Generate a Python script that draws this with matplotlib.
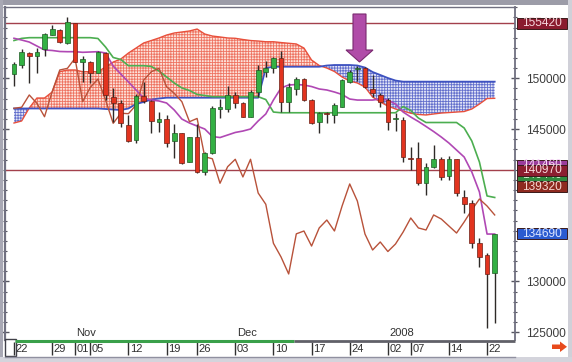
import matplotlib
matplotlib.use("Agg")
import matplotlib.pyplot as plt
import matplotlib.transforms as mtransforms
from matplotlib.patches import Rectangle, Polygon
from matplotlib.ticker import MultipleLocator, FixedLocator, FormatStrFormatter
import numpy as np

plt.rcParams['font.family'] = ['Liberation Sans', 'DejaVu Sans']
plt.rcParams['hatch.linewidth'] = 0.6

# ---------------- data ----------------
opens = [150420, 151310, 152460, 152200, 152910, 154290, 154750, 153500, 155410, 151580,
         151600, 150550, 152520, 148190, 147540, 145400, 143930, 148260, 147800, 145670,
         145990, 143830, 144640, 141790, 144190, 140810, 142620, 147010, 146950, 148360,
         147540, 146220, 148680, 150650, 150980, 151970, 147700, 148920, 149900, 147860,
         145730, 146560, 146390, 147200, 149670, 150870, 150980, 148920, 148360, 147860,
         145950, 145900, 142180, 142130, 139670, 141240, 142030, 140380, 142030, 138320,
         137730, 133760, 132610, 130870]
highs = [151630, 152850, 152560, 153010, 154430, 155250, 154880, 156000, 155470, 152200,
         151730, 152690, 152620, 149020, 147860, 146390, 148460, 149670, 147860, 146710,
         146390, 145500, 144650, 144250, 145500, 142780, 147270, 147930, 149240, 148680,
         147700, 148850, 151310, 151700, 152130, 152720, 149510, 150160, 150000, 147930,
         146710, 146710, 147540, 149930, 150820, 151210, 151140, 150330, 148520, 148030,
         146560, 146220, 143270, 143760, 141630, 143430, 142280, 142350, 142060, 139010,
         138020, 134280, 132830, 134700]
lows = [149240, 151040, 149510, 150550, 152200, 154230, 153500, 153380, 151570, 149670,
        149510, 150490, 147860, 145730, 145240, 143760, 143660, 147540, 144590, 144740,
        143270, 142130, 141560, 141730, 140650, 140480, 142550, 146060, 146710, 147050,
        146200, 146200, 148190, 150160, 150490, 146710, 146710, 148360, 147800, 145500,
        144590, 145570, 145630, 147150, 149570, 149700, 149020, 148190, 147200, 144910,
        144790, 141790, 140970, 139500, 138510, 141140, 139990, 139990, 138440, 136740,
        133300, 131430, 125390, 125890]
closes = [151410, 152620, 152230, 152620, 154330, 154820, 153600, 155570, 151630, 151870,
          150550, 152620, 148360, 147540, 145570, 143860, 148260, 147800, 145830, 145990,
          143660, 144590, 141690, 144190, 140810, 142620, 147050, 147150, 148360, 147540,
          146220, 148680, 150820, 150980, 151970, 147700, 149110, 149930, 147860, 145570,
          146560, 146520, 147370, 149830, 150650, 150980, 149170, 148520, 147700, 145730,
          146050, 142280, 142080, 139670, 141300, 142030, 140290, 142030, 138710, 137600,
          133760, 132410, 130740, 134690]

span_a = [145600, 145800, 147080, 148060, 148060, 148650, 150650, 150820, 150820, 150650,
          150650, 150650, 151110, 151600, 151900, 152490, 152980, 153480, 153720, 153970,
          154260, 154460, 154560, 154660, 154850, 154360, 154160, 154070, 153970, 153940,
          153820, 153720, 153670, 153600, 153600, 153520, 153450, 153380, 152980, 151800,
          151260, 151010, 150670, 150130, 149730, 149540, 149140, 148160, 147670, 147270,
          146980, 146780, 146560, 146440, 146390, 146490, 146580, 146630, 146680, 146730,
          146980, 147470, 148010, 148030]
span_b = [147030] * 12 + [146980, 146930, 146880, 147030, 147470, 147670, 147910, 148010] \
         + [148090] * 13 + [151010] + [151140] * 7 \
         + [151260, 151310, 151310, 151310, 151260, 151060, 150620, 150330, 150030, 149780] \
         + [149670] * 13
kijun = [153720, 153930] + [154000] * 9 \
        + [153920, 153080, 152050, 151850, 151240, 151240, 151240, 151170, 150720, 150130,
           149540, 149050, 148800, 148410, 148310] \
        + [148190] * 7 + [147910, 146680] + [146610] * 15 \
        + [146610, 147220, 146830, 146090, 145650] + [145650] * 4 \
        + [145110, 143830, 141760, 138420, 138270]
tenkan = [153940, 153770, 153570, 153180, 152790, 152740, 152640, 152620, 152620, 152560,
          152590, 152620, 152490, 151210, 150420, 149640, 148850, 148060, 147860, 147770,
          147570, 146880, 145990, 145600, 145300, 145010, 144270, 144170, 144420, 144670,
          144810, 145010, 145800, 146490, 147860, 149050, 149340, 149390, 149340, 149190,
          148950, 148850, 148650, 148410, 147960, 147860, 147860, 147860, 147960, 147860,
          147470, 146680, 146190, 145750, 145260, 144760, 144220, 143630, 142940, 142250,
          140780, 138810, 134670, 134670]
lagging = [147050, 147150, 148360, 147540, 146220, 148680, 150820, 150980, 151970, 147700,
           149110, 149930, 147860, 145570, 146560, 146520, 147370, 149830, 150650, 150980,
           149170, 148520, 147700, 145730, 146050, 142280, 142080, 139670, 141300, 142030,
           140290, 142030, 138710, 137600, 133760, 132410, 130740, 134690,
           134970, 133490, 135270, 136050, 134970, 137430, 139600, 137920, 134670, 133100,
           133890, 132950, 133690, 134870, 136250, 135270, 135070, 136550, 136150, 135460,
           134770, 135860, 137040, 138120, 137430, 136550]

date_labels = ["22", "29", "01", "05", "12", "19", "26", "03", "10", "17", "24", "02", "07", "14", "22"]
date_pos = [0, 5, 8, 10, 15, 20, 24, 29, 34, 39, 44, 49, 52, 57, 62]
month_labels = ["Nov", "Dec", "2008"]
month_pos = [8, 29, 49]
axis_labels = [125000, 130000, 145000, 150000]

hline_values = [155420, 140970]
level_values = [155420, 141460, 140440, 140970, 139320, 134690]
level_face = ['#8a1b2e', '#9a3c9c', '#2f8a3e', '#8c1e30', '#8e2a20', '#2b5bd0']
level_text = ['#f6d6dc', '#f4d4f4', '#d6f0d6', '#f6d6dc', '#f6d6d0', '#dde6ff']

# ---------------- figure ----------------
W, H = 572, 362
fig = plt.figure(figsize=(W / 100, H / 100), dpi=100)
fig.patch.set_facecolor('white')

L, R, T, B = 5, 515, 7, 340
ax = fig.add_axes([L / W, (H - B) / H, (R - L) / W, (B - T) / H])
n = len(closes)
x = np.arange(n)
dx = 7.63
ax.set_xlim((L - 14) / dx, (R - 14) / dx)
ax.set_ylim(124240, 157020)

sa = np.array(span_a, float)
sb = np.array(span_b, float)
ax.fill_between(x, sa, sb, where=sa >= sb, interpolate=True, facecolor='#fde2da',
                edgecolor='#ee7462', hatch='++++++', linewidth=0, zorder=1)
ax.fill_between(x, sa, sb, where=sa < sb, interpolate=True, facecolor='#e2e5f7',
                edgecolor='#6470cc', hatch='++++++', linewidth=0, zorder=1)
ax.plot(x, sa, color='#e8503c', lw=1.0, zorder=2)
ax.plot(x, sb, color='#3e52c0', lw=1.3, zorder=2)

for v in hline_values:
    ax.axhline(v, color='#a3404c', lw=1.0, zorder=2)

ax.plot(x, kijun, color='#4cae50', lw=1.2, zorder=3)
ax.plot(x, tenkan, color='#b048b4', lw=1.2, zorder=3)
ax.plot(x, lagging, color='#b8523a', lw=1.0, zorder=3)

o = np.array(opens, float); c = np.array(closes, float)
hi = np.array(highs, float); lo = np.array(lows, float)
up = c >= o
ax.vlines(x, lo, hi, color='#2e2a28', lw=1.0, zorder=4)
body_bottom = np.minimum(o, c)
body_h = np.maximum(np.abs(c - o), 60)
ax.bar(x[up], body_h[up], bottom=body_bottom[up], width=0.62, color='#33b043',
       edgecolor='#1f5a24', linewidth=0.5, zorder=5)
ax.bar(x[~up], body_h[~up], bottom=body_bottom[~up], width=0.62, color='#e2341f',
       edgecolor='#6a1e14', linewidth=0.5, zorder=5)

# axes styling
ax.set_xticks([])
ax.yaxis.set_major_locator(FixedLocator(axis_labels))
ax.yaxis.set_minor_locator(MultipleLocator(1000))
ax.yaxis.set_major_formatter(FormatStrFormatter('%d'))
ax.tick_params(axis='y', which='both', left=True, right=True, labelleft=False,
               labelright=True, direction='inout', color='#555560')
ax.tick_params(axis='y', which='major', length=6, width=1.0, labelsize=8.6,
               labelcolor='#3c3c3c', pad=5)
ax.tick_params(axis='y', which='minor', length=3.5, width=0.8)
for s in ['left', 'right', 'top']:
    ax.spines[s].set_color('#707080')
ax.spines['left'].set_linewidth(1.6)
ax.spines['right'].set_linewidth(1.3)
ax.spines['top'].set_linewidth(1.0)
ax.spines['bottom'].set_visible(False)

# month labels
for lab, p in zip(month_labels, month_pos):
    ax.text(p + 0.2, 124930, lab, ha='left', va='center', fontsize=8, color='#303030', zorder=6)

# value boxes on the right
blend = mtransforms.blended_transform_factory(ax.transAxes, ax.transData)
bx0 = (517 - L) / (R - L)
bw = 50 / (R - L)
bh = 11 * 98.44
order = [1, 2, 3, 4, 5, 0]
for k, i in enumerate(order):
    v = level_values[i]
    ax.add_patch(Rectangle((bx0, v - bh / 2), bw, bh, transform=blend, clip_on=False,
                           facecolor=level_face[i], edgecolor='#3a1a1a', lw=0.7, zorder=10 + k))
    ax.text(bx0 + bw / 2, v, str(v), transform=blend, ha='center', va='center',
            fontsize=8.6, color=level_text[i], clip_on=False, zorder=10.5 + k)

# date strip
sx = fig.add_axes([L / W, (H - 357) / H, (R - L) / W, 17 / H])
sx.set_xlim(ax.get_xlim())
sx.set_ylim(0, 1)
sx.axis('off')
sx.vlines(date_pos, 0.12, 0.9, color='#303030', lw=1.0)
for lab, p in zip(date_labels, date_pos):
    sx.text(p + 0.22, 0.48, lab, ha='left', va='center', fontsize=8, color='#303030')

# overlay in pixel coordinates for decorations
ov = fig.add_axes([0, 0, 1, 1], zorder=20)
ov.set_xlim(0, W)
ov.set_ylim(H, 0)
ov.axis('off')
ov.patch.set_alpha(0)
ov.add_patch(Rectangle((0, 0), W, 5, facecolor='#9c9ca8', edgecolor='none'))
ov.add_patch(Rectangle((0, 0), 3, H, facecolor='#a8a8b4', edgecolor='none'))
ov.add_patch(Rectangle((W - 4, 0), 4, H, facecolor='#d0d0d8', edgecolor='none'))
ov.add_patch(Rectangle((0, 357), W, 5, facecolor='#d4d4dc', edgecolor='none'))
ov.plot([15, 294], [340.5, 340.5], color='#3aa04a', lw=2.2, solid_capstyle='butt')
ov.plot([294, 515], [340.5, 340.5], color='#606068', lw=2.0, solid_capstyle='butt')
ov.plot([5, 515], [356.5, 356.5], color='#9090a0', lw=1.0)
ov.add_patch(Rectangle((5, 339), 10.5, 16.5, facecolor='none', edgecolor='#404048', lw=1.0))
ov.add_patch(Polygon([(353, 14), (366, 14), (366, 50), (373, 50), (359.5, 62), (346, 50), (353, 50)],
                     closed=True, facecolor='#b04ca8', edgecolor='#7a2a70', lw=0.8))
ov.add_patch(Polygon([(552, 344.5), (560, 344.5), (560, 341.5), (567, 346.8), (560, 352),
                      (560, 349), (552, 349)], closed=True, facecolor='#e84a1c', edgecolor='none'))

fig.savefig('out.png', dpi=100)
